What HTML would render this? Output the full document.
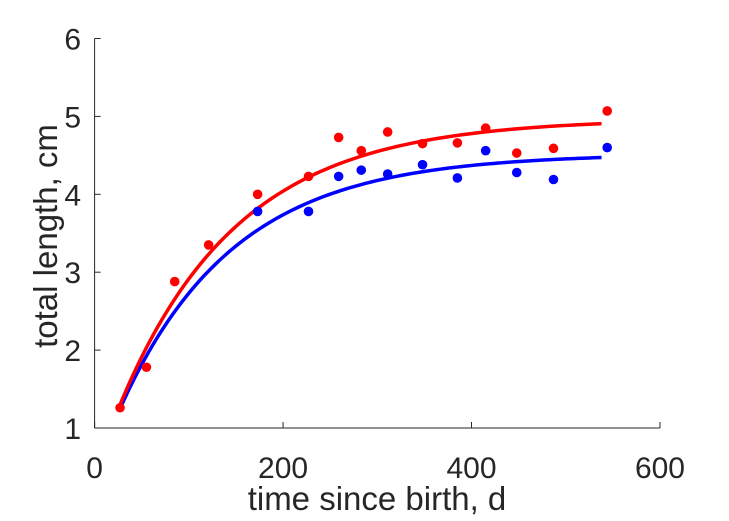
<!DOCTYPE html>
<html><head><meta charset="utf-8"><style>
html,body{margin:0;padding:0;background:#fff;}
svg{display:block;font-family:"Liberation Sans",sans-serif;}
</style></head><body>
<svg id="chart" width="729" height="521" viewBox="0 0 729 521" xmlns="http://www.w3.org/2000/svg">
<g id="axes"></g>
<g id="marks"></g>
<text x="377" y="510" text-anchor="middle" font-size="33" fill="#262626">time since birth, d</text>
<text x="57" y="236" text-anchor="middle" font-size="33" fill="#262626" transform="rotate(-90 57 236)">total length, cm</text>
</svg>
<script>
const xTicks = [0, 200, 400, 600];
const yTicks = [1, 2, 3, 4, 5, 6];
const redDays = [27, 55, 85, 121, 173, 227, 259, 283, 311, 348, 385, 415, 448, 487, 544];
const redLengths = [1.26, 1.78, 2.88, 3.35, 4.00, 4.23, 4.73, 4.56, 4.80, 4.65, 4.66, 4.85, 4.53, 4.59, 5.07];
const blueDays = [173, 227, 259, 283, 311, 348, 385, 415, 448, 487, 544];
const blueLengths = [3.78, 3.78, 4.23, 4.31, 4.26, 4.38, 4.21, 4.56, 4.28, 4.19, 4.60];
// von Bertalanffy fit parameters: [Linf, L0, k, t0, tEnd]
const redFit = [4.97, 1.30, 0.00794, 27, 538];
const blueFit = [4.52, 1.25, 0.00826, 27, 538];

const NS = "http://www.w3.org/2000/svg";
const X0 = 94.6, XS = 0.9423;
const Y1 = 428, YS = 77.9;
function sx(d){ return X0 + d * XS; }
function sy(v){ return Y1 - (v - 1) * YS; }
function mk(tag, attrs, parent){
  const e = document.createElementNS(NS, tag);
  for (const k in attrs) e.setAttribute(k, attrs[k]);
  parent.appendChild(e); return e;
}
const axes = document.getElementById('axes');
const marks = document.getElementById('marks');
const ac = '#262626';
let l = mk('line', {x1: sx(0), y1: sy(1), x2: sx(600), y2: sy(1), stroke: ac, 'stroke-width': 1}, axes);


l = mk('line', {x1: sx(0), y1: sy(1), x2: sx(0), y2: sy(6), stroke: ac, 'stroke-width': 1}, axes);


xTicks.forEach(t => {
  const tk = mk('line', {x1: sx(t), y1: sy(1), x2: sx(t), y2: sy(1) - 6, stroke: ac, 'stroke-width': 1}, axes);
  
  
  const tx = mk('text', {x: sx(t), y: 478, 'text-anchor': 'middle', 'font-size': 30, fill: ac}, axes);
  tx.textContent = t;
  
  
});
yTicks.forEach(t => {
  const tk = mk('line', {x1: sx(0), y1: sy(t), x2: sx(0) + 6, y2: sy(t), stroke: ac, 'stroke-width': 1}, axes);
  
  
  const tx = mk('text', {x: 81, y: sy(t) + 11, 'text-anchor': 'end', 'font-size': 30, fill: ac}, axes);
  tx.textContent = t;
  
  
});
function curve(p, color, name){
  const [Li, L0, k, t0, t1] = p;
  let d = '';
  for (let i = 0; i <= 120; i++){
    const t = t0 + (t1 - t0) * i / 120;
    const v = Li - (Li - L0) * Math.exp(-k * (t - t0));
    d += (i ? 'L' : 'M') + sx(t).toFixed(2) + ' ' + sy(v).toFixed(2);
  }
  const pth = mk('path', {d: d, fill: 'none', stroke: color, 'stroke-width': 3.5}, marks);
  
  
}
function dots(xs, ys, color, name){
  xs.forEach((x, i) => {
    const c = mk('circle', {cx: sx(x), cy: sy(ys[i]), r: 4.8, fill: color}, marks);
    
    
  });
}
curve(blueFit, '#0000ff', 'blue-fit-curve');
curve(redFit, '#ff0000', 'red-fit-curve');
dots(redDays, redLengths, '#ff0000', 'red-data-point');
dots(blueDays, blueLengths, '#0000ff', 'blue-data-point');
</script>
</body></html>
